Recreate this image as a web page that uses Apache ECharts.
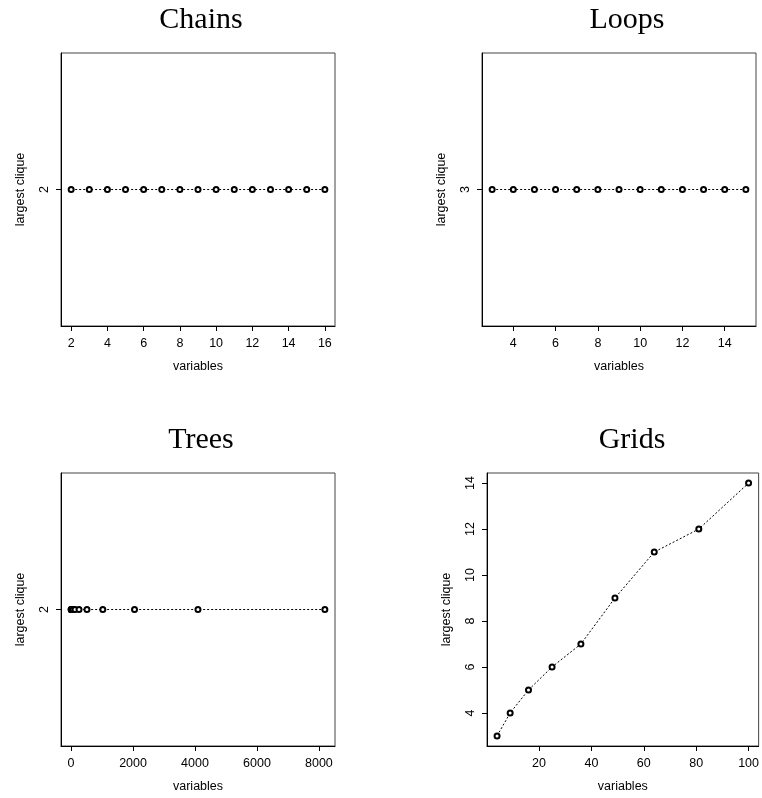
<!DOCTYPE html>
<html>
<head>
<meta charset="utf-8">
<script src="https://cdn.jsdelivr.net/npm/echarts@6/dist/echarts.min.js"></script>
<style>
html, body { margin: 0; padding: 0; background: #fff; }
#main { width: 762px; height: 798px; }
</style>
</head>
<body>
<div id="main"></div>
<script>
// values
var chainsX = [2, 3, 4, 5, 6, 7, 8, 9, 10, 11, 12, 13, 14, 15, 16];
var chainsY = [2, 2, 2, 2, 2, 2, 2, 2, 2, 2, 2, 2, 2, 2, 2];
var loopsX = [3, 4, 5, 6, 7, 8, 9, 10, 11, 12, 13, 14, 15];
var loopsY = [3, 3, 3, 3, 3, 3, 3, 3, 3, 3, 3, 3, 3];
var treesX = [2, 4, 8, 16, 32, 64, 128, 256, 512, 1024, 2048, 4096, 8192];
var treesY = [2, 2, 2, 2, 2, 2, 2, 2, 2, 2, 2, 2, 2];
var gridsX = [4, 9, 16, 25, 36, 49, 64, 81, 100];
var gridsY = [3, 4, 5, 6, 7, 9, 11, 12, 14];

// tick labels
var chainsXTicks = [2, 4, 6, 8, 10, 12, 14, 16];
var chainsYTicks = [2];
var loopsXTicks = [4, 6, 8, 10, 12, 14];
var loopsYTicks = [3];
var treesXTicks = [0, 2000, 4000, 6000, 8000];
var treesYTicks = [2];
var gridsXTicks = [20, 40, 60, 80, 100];
var gridsYTicks = [4, 6, 8, 10, 12, 14];

// R style axis range: 4% padding, constant data gets +-40%
function rRange(v) {
     var lo = Math.min.apply(null, v), hi = Math.max.apply(null, v);
     if (lo === hi) { lo = lo * 0.6; hi = hi * 1.4; }
     var d = (hi - lo) * 0.04;
     return [lo - d, hi + d];
}

var panels = [
     {title: 'Chains', x: chainsX, y: chainsY, xt: chainsXTicks, yt: chainsYTicks, left: 61, top: 53, tx: 201},
     {title: 'Loops', x: loopsX, y: loopsY, xt: loopsXTicks, yt: loopsYTicks, left: 482, top: 53, tx: 627},
     {title: 'Trees', x: treesX, y: treesY, xt: treesXTicks, yt: treesYTicks, left: 61, top: 473, tx: 201},
     {title: 'Grids', x: gridsX, y: gridsY, xt: gridsXTicks, yt: gridsYTicks, left: 487, top: 473, tx: 632}
];
var W = 274, H = 273;
var sans = 'Liberation Sans';
var plain = function (v) { return String(v); };

var chart = echarts.init(document.getElementById('main'));
var option = {
     animation: false,
     backgroundColor: '#fff',
     title: [], grid: [], xAxis: [], yAxis: [], series: []
};

panels.forEach(function (p, i) {
     var xr = rRange(p.x), yr = rRange(p.y);
     option.title.push({
          text: p.title,
          left: p.tx,
          top: p.top - 48,
          padding: 0,
          textAlign: 'center',
          textStyle: {fontFamily: 'Liberation Serif', fontSize: 30, fontWeight: 'normal', color: '#000'}
     });
     option.grid.push({
          left: p.left, top: p.top, width: W, height: H,
          show: true, borderColor: '#444', borderWidth: 1, backgroundColor: 'transparent'
     });
     option.xAxis.push({
          gridIndex: i, type: 'value', min: xr[0], max: xr[1],
          axisLine: {show: true, onZero: false, lineStyle: {color: '#000', width: 1}},
          axisTick: {show: true, length: 5, customValues: p.xt, lineStyle: {color: '#000'}},
          axisLabel: {customValues: p.xt, formatter: plain, margin: 11, color: '#000', fontFamily: sans, fontSize: 12.5},
          splitLine: {show: false},
          name: 'variables', nameLocation: 'middle', nameGap: 34,
          nameTextStyle: {fontFamily: sans, fontSize: 12.5, color: '#000'}
     });
     option.yAxis.push({
          gridIndex: i, type: 'value', min: yr[0], max: yr[1],
          axisLine: {show: true, onZero: false, lineStyle: {color: '#000', width: 1}},
          axisTick: {show: true, length: 5, customValues: p.yt, lineStyle: {color: '#000'}},
          axisLabel: {customValues: p.yt, formatter: plain, rotate: 90, margin: 10, color: '#000', fontFamily: sans, fontSize: 12.5},
          splitLine: {show: false},
          name: 'largest clique', nameLocation: 'middle', nameGap: 34, nameRotate: 90,
          nameTextStyle: {fontFamily: sans, fontSize: 12.5, color: '#000'}
     });
     option.series.push({
          type: 'line', xAxisIndex: i, yAxisIndex: i,
          data: p.x.map(function (v, k) { return [v, p.y[k]]; }),
          symbol: 'emptyCircle', symbolSize: 5,
          itemStyle: {color: '#000', borderColor: '#000', borderWidth: 0.8},
          lineStyle: {color: '#000', width: 1, type: [2, 2]},
          silent: true
     });
});

chart.setOption(option);
</script>
</body>
</html>
